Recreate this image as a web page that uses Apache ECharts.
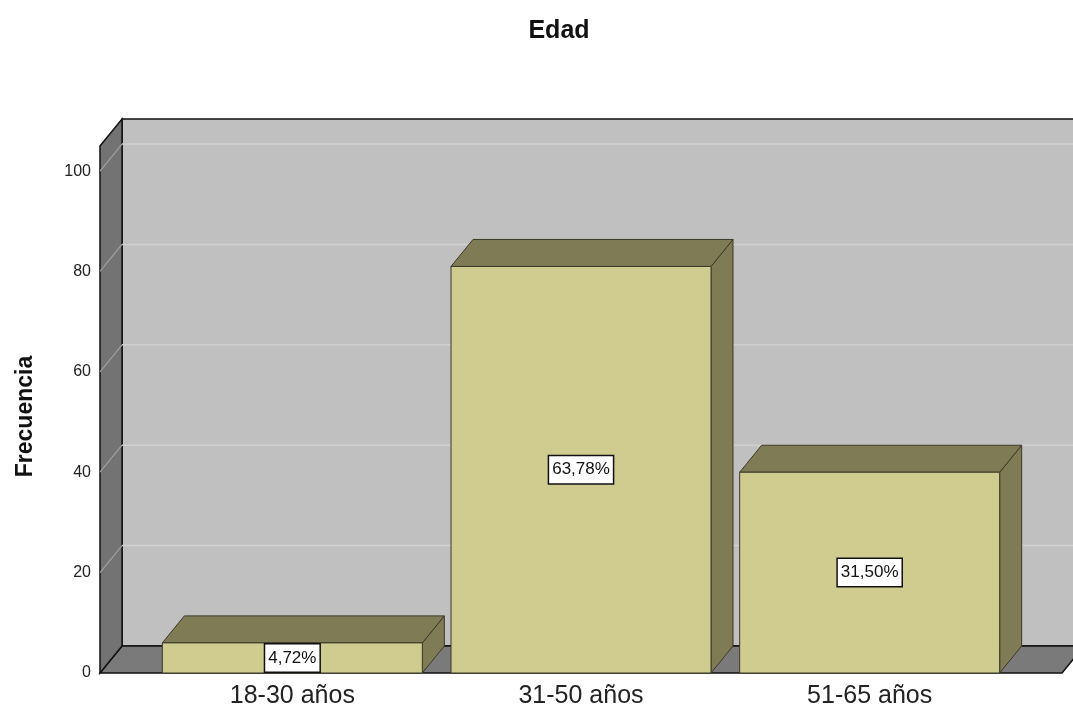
<!DOCTYPE html>
<html>
<head>
<meta charset="utf-8">
<script src="https://cdn.jsdelivr.net/npm/echarts@6/dist/echarts.min.js"></script>
<style>
  html, body { margin: 0; padding: 0; background: #fff; }
  #main { width: 1073px; height: 711px; }
</style>
</head>
<body>
<div id="main"></div>
<script>
// datos del grafico
var categories = ['18-30 años', '31-50 años', '51-65 años'];
var frecuencias = [6, 81, 40];
var porcentajes = ['4,72%', '63,78%', '31,50%'];
var yTicks = [0, 20, 40, 60, 80, 100];

// profundidad 3D (px)
var DX = 22, DY = 27;
var PAD = 48;      // margen lateral de las paredes fuera del grid
var BAR_W = 260;

var chart = echarts.init(document.getElementById('main'));

function renderWalls(params, api) {
  var cs = params.coordSys;
  var left = cs.x - PAD;
  var right = cs.x + cs.width + PAD;
  var top = cs.y;
  var bottom = cs.y + cs.height;
  var children = [];
  // pared del fondo
  children.push({
    type: 'rect',
    shape: { x: left + DX, y: top - DY, width: right - left + 40, height: bottom - top },
    style: { fill: '#c0c0c0', stroke: '#111', lineWidth: 1.5 }
  });
  // suelo
  children.push({
    type: 'polygon',
    shape: { points: [[left, bottom], [left + DX, bottom - DY], [right + DX, bottom - DY], [right, bottom]] },
    style: { fill: '#7a7a7a', stroke: '#111', lineWidth: 1.5 }
  });
  // pared izquierda
  children.push({
    type: 'polygon',
    shape: { points: [[left, top], [left + DX, top - DY], [left + DX, bottom - DY], [left, bottom]] },
    style: { fill: '#737373', stroke: '#111', lineWidth: 1.5 }
  });
  // lineas de cuadricula
  yTicks.forEach(function (t) {
    if (t === 0) return;
    var y = api.coord([0, t])[1];
    children.push({
      type: 'line',
      shape: { x1: left + DX, y1: y - DY, x2: right + DX + 40, y2: y - DY },
      style: { stroke: '#d0d0d0', lineWidth: 1.5 }
    });
    children.push({
      type: 'line',
      shape: { x1: left, y1: y, x2: left + DX, y2: y - DY },
      style: { stroke: '#a0a0a0', lineWidth: 1.2 }
    });
  });
  return { type: 'group', children: children };
}

function renderBar(params, api) {
  var i = api.value(0);
  var topPt = api.coord([i, api.value(1)]);
  var botPt = api.coord([i, 0]);
  var x0 = topPt[0] - BAR_W / 2;
  var x1 = topPt[0] + BAR_W / 2;
  var yt = topPt[1];
  var yb = botPt[1];
  var stroke = '#3b3a28';
  return {
    type: 'group',
    children: [
      {
        type: 'polygon',
        shape: { points: [[x1, yt], [x1 + DX, yt - DY], [x1 + DX, yb - DY], [x1, yb]] },
        style: { fill: '#7f7b55', stroke: stroke, lineWidth: 1 }
      },
      {
        type: 'polygon',
        shape: { points: [[x0, yt], [x0 + DX, yt - DY], [x1 + DX, yt - DY], [x1, yt]] },
        style: { fill: '#7f7b55', stroke: stroke, lineWidth: 1 }
      },
      {
        type: 'rect',
        shape: { x: x0, y: yt, width: BAR_W, height: yb - yt },
        style: { fill: '#d0cb8f', stroke: stroke, lineWidth: 1 }
      },
      {
        type: 'text',
        x: topPt[0],
        y: (yt + yb) / 2,
        style: {
          text: porcentajes[i],
          fill: '#111',
          font: '17px "Liberation Sans", Arial, sans-serif',
          align: 'center',
          verticalAlign: 'middle',
          backgroundColor: '#fff',
          borderColor: '#111',
          borderWidth: 1.5,
          padding: [5, 3, 5, 3]
        }
      }
    ]
  };
}

var option = {
  backgroundColor: '#fff',
  animation: false,
  title: {
    text: 'Edad',
    left: 554,
    top: 14,
    textAlign: 'center',
    textStyle: { fontFamily: 'Liberation Sans', fontSize: 25, fontWeight: 'bold', color: '#111' }
  },
  grid: { left: 148, right: 59, top: 146, bottom: 38, outerBoundsMode: 'none', containLabel: false },
  xAxis: {
    type: 'category',
    data: categories,
    axisLine: { show: false },
    axisTick: { show: false },
    axisLabel: { fontFamily: 'Liberation Sans', fontSize: 25, color: '#222', margin: 11 }
  },
  yAxis: {
    type: 'value',
    min: 0,
    max: 105,
    interval: 20,
    offset: PAD,
    name: 'Frecuencia',
    nameLocation: 'middle',
    nameGap: 63,
    nameTextStyle: { fontFamily: 'Liberation Sans', fontSize: 23, fontWeight: 'bold', color: '#111', padding: [0, 0, 0, -14] },
    axisLine: { show: false },
    axisTick: { show: false },
    splitLine: { show: false },
    axisLabel: {
      fontFamily: 'Liberation Sans',
      fontSize: 16,
      color: '#222',
      margin: 9,
      formatter: function (v) { return (v % 20 === 0 && v <= 100) ? String(v) : ''; }
    }
  },
  series: [
    {
      type: 'custom',
      name: 'paredes',
      z: 1,
      data: [[0, 0]],
      renderItem: renderWalls,
      silent: true
    },
    {
      type: 'custom',
      name: 'Frecuencia',
      z: 2,
      data: frecuencias.map(function (v, i) { return [i, v]; }),
      renderItem: renderBar
    }
  ]
};

chart.setOption(option);
</script>
</body>
</html>
